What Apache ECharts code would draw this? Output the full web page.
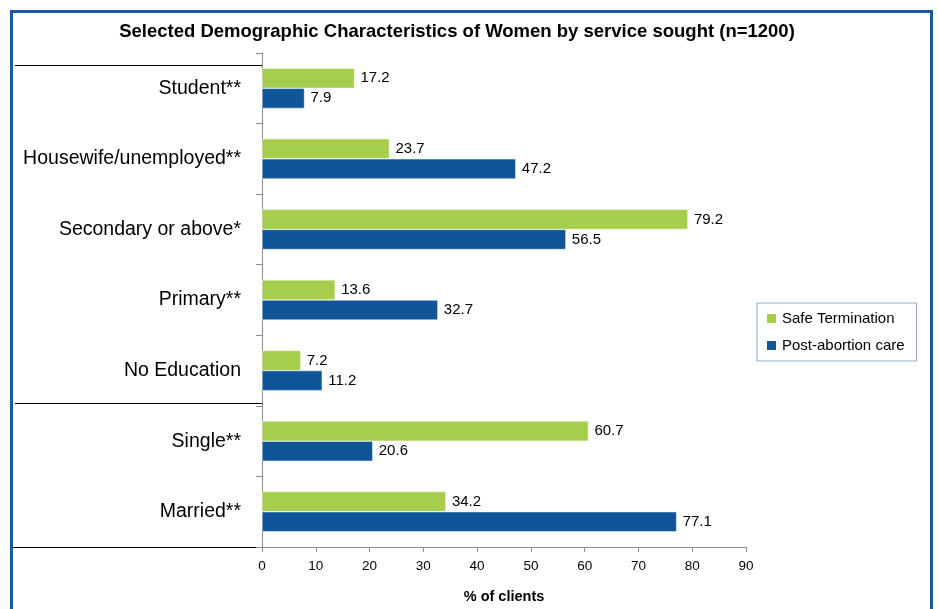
<!DOCTYPE html>
<html><head><meta charset="utf-8">
<script src="https://cdn.jsdelivr.net/npm/echarts@6/dist/echarts.min.js"></script>
<style>html,body{margin:0;padding:0;background:#fff}#c{width:938px;height:609px}</style>
</head><body><div id="c"></div>
<script>
const categories = ['Student**','Housewife/unemployed**','Secondary or above*','Primary**','No Education','Single**','Married**'];
const safeTermination = [17.2, 23.7, 79.2, 13.6, 7.2, 60.7, 34.2];
const postAbortion = [7.9, 47.2, 56.5, 32.7, 11.2, 20.6, 77.1];
const xTicks = [0,10,20,30,40,50,60,70,80,90];
const FONT = 'Liberation Sans';

const chart = echarts.init(document.getElementById('c'));
const lbl = {show:true, position:'right', distance:6, color:'#000', fontSize:15, fontFamily:FONT};
chart.setOption({
  animation:false,
  title:{text:'Selected Demographic Characteristics of Women by service sought (n=1200)', left:452, top:17, textAlign:'center',
    textStyle:{fontFamily:FONT, fontWeight:'bold', fontSize:18.5, color:'#000'}},
  legend:{orient:'vertical', left:757, top:303, padding:[8,12,8,8], itemGap:12, itemWidth:11, itemHeight:11,
    borderColor:'#8fa9c9', borderWidth:1, icon:'rect',
    textStyle:{fontFamily:FONT, fontSize:15, color:'#000'}, data:['Safe Termination','Post-abortion care']},
  grid:{left:262, top:53, right:192, bottom:62},
  xAxis:{type:'value', min:0, max:90, interval:10,
    axisLine:{show:true, lineStyle:{color:'#8c8c8c'}}, axisTick:{show:true, length:5, lineStyle:{color:'#8c8c8c'}},
    splitLine:{show:false},
    axisLabel:{fontFamily:FONT, fontSize:13.5, color:'#000', margin:12, formatter:v=>xTicks.includes(v)?String(v):''},
    name:'% of clients', nameLocation:'middle', nameGap:42,
    nameTextStyle:{fontFamily:FONT, fontWeight:'bold', fontSize:14.5, color:'#000'}},
  yAxis:{type:'category', data:categories, inverse:true,
    axisLine:{show:true, lineStyle:{color:'#8c8c8c'}}, axisTick:{show:true, length:6, lineStyle:{color:'#8c8c8c'}},
    axisLabel:{fontFamily:FONT, fontSize:19.5, color:'#000', margin:21}},
  series:[
    {name:'Safe Termination', type:'bar', data:safeTermination, barGap:'0%', barCategoryGap:'43%',
      itemStyle:{color:'#a6cd4b', borderColor:'#fff', borderWidth:0.5}, label:lbl},
    {name:'Post-abortion care', type:'bar', data:postAbortion, barGap:'0%', barCategoryGap:'43%',
      itemStyle:{color:'#0f5597', borderColor:'#fff', borderWidth:0.5}, label:lbl}
  ]
});
// decorative group separators & frame
const yNoEd = chart.convertToPixel({yAxisIndex:0}, 'No Education');
const ySingle = chart.convertToPixel({yAxisIndex:0}, 'Single**');
const mid = Math.round((yNoEd + ySingle)/2) - 2.5;
chart.setOption({graphic:[
  {type:'rect', shape:{x:11.5, y:11.5, width:920, height:620}, style:{fill:'none', stroke:'#1a5a9e', lineWidth:3}, silent:true},
  {type:'line', shape:{x1:15, y1:65.5, x2:263, y2:65.5}, style:{stroke:'#000', lineWidth:1}},
  {type:'line', shape:{x1:15, y1:mid, x2:263, y2:mid}, style:{stroke:'#000', lineWidth:1}},
  {type:'line', shape:{x1:12, y1:547.5, x2:265, y2:547.5}, style:{stroke:'#000', lineWidth:1}}
]});
</script></body></html>
